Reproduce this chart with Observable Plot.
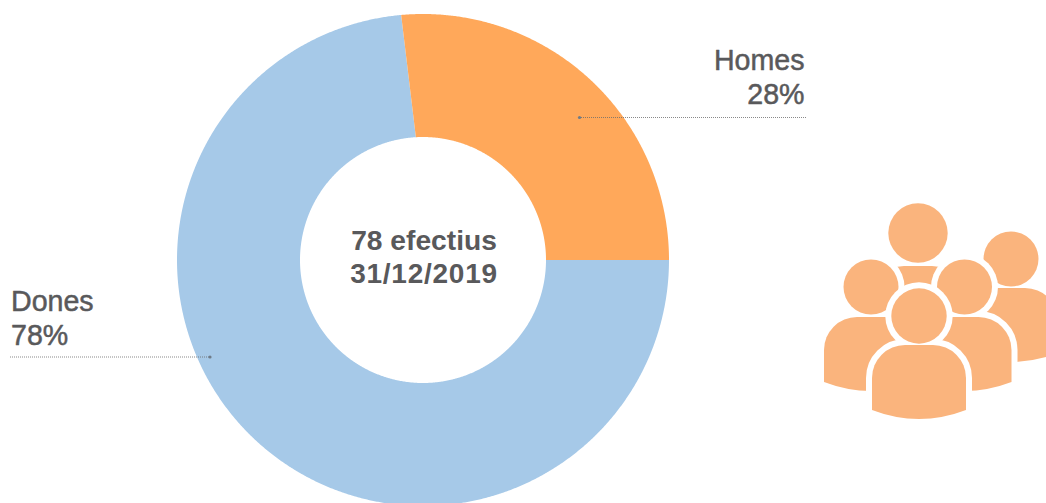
<!DOCTYPE html>
<html>
<head>
<meta charset="utf-8">
<script src="https://cdn.jsdelivr.net/npm/d3@7"></script>
<script src="https://cdn.jsdelivr.net/npm/@observablehq/plot@0.6"></script>
<style>
html,body{margin:0;padding:0;background:#fff;overflow:hidden}
svg{display:block}
.date text{letter-spacing:.75px}
</style>
</head>
<body>
<div id="chart"></div>
<script>
const categories = ["Dones", "Homes"];
const values = [78, 28];
const colors = ["#A6C9E8", "#FFA85A"];
const centerLines = ["78 efectius", "31/12/2019"];

const W = 1046, H = 503;
const cx = 423, cy = 260, R = 246, r0 = 123;
const ink = "#59595B";
const seamSkew = 0.031; // the reference's slice boundary is not quite radial

const pie = d3.pie().sort(null).startAngle(Math.PI / 2).endAngle(Math.PI * 2.5);
const arcs = pie(values);
const ring = arcs.flatMap((a, i) => {
  const n = Math.ceil((a.endAngle - a.startAngle) / 0.005);
  const i0 = a.startAngle + (i === 1 ? seamSkew : 0);
  const i1 = a.endAngle + (i === 0 ? seamSkew : 0);
  return d3.range(n + 1).map(k => {
    const t = a.startAngle + (a.endAngle - a.startAngle) * k / n;
    const u = i0 + (i1 - i0) * k / n;
    return {
      category: categories[i],
      x1: cx + R * Math.sin(t), y1: cy - R * Math.cos(t),
      x2: cx + r0 * Math.sin(u), y2: cy - r0 * Math.cos(u)
    };
  });
});

const labelsRight = [
  {text: categories[1], x: 804, y: 60},
  {text: values[1] + "%", x: 804, y: 94}
];
const labelsLeft = [
  {text: categories[0], x: 10.5, y: 301},
  {text: values[0] + "%", x: 10.5, y: 335}
];
const leaders = [
  {x1: 579, x2: 806, y: 117},
  {x1: 10, x2: 209.5, y: 356.5}
];

// Pictograph: back to front
const people = [
  {c: 1011, hy: 259, hr: 27.5, top: 288},
  {c: 918, hy: 233, hr: 29.7, top: 266},
  {c: 871, hy: 287, hr: 27.5, top: 317},
  {c: 964.5, hy: 287, hr: 27.5, top: 317},
  {c: 919, hy: 316, hr: 27.7, top: 345}
];
function bodyPath(p) {
  const l = p.c - 47, e = p.c + 47, s = 33, b = p.top + 65;
  return `M${l},${b}V${p.top + s}A${s},${s} 0 0 1 ${l + s},${p.top}H${e - s}A${s},${s} 0 0 1 ${e},${p.top + s}V${b}Q${p.c},${b + 18} ${l},${b}Z`;
}
function icon() {
  const g = d3.create("svg:g").attr("aria-label", "people icon");
  for (const p of people) {
    g.append("path").attr("d", bodyPath(p)).attr("fill", "#fff").attr("stroke", "#fff").attr("stroke-width", 12).attr("stroke-linejoin", "round");
    g.append("circle").attr("cx", p.c).attr("cy", p.hy).attr("r", p.hr + 6).attr("fill", "#fff");
    g.append("path").attr("d", bodyPath(p)).attr("fill", "#FAB47D");
    g.append("circle").attr("cx", p.c).attr("cy", p.hy).attr("r", p.hr).attr("fill", "#FAB47D");
  }
  return g.node();
}

const textStyle = {x: "x", y: "y", text: "text", fontSize: 28.6, fill: ink, stroke: ink, strokeWidth: 0.5};

const plot = Plot.plot({
  width: W, height: H,
  marginTop: 0, marginRight: 0, marginBottom: 0, marginLeft: 0,
  x: {domain: [0, W], range: [0, W], axis: null},
  y: {domain: [0, H], range: [0, H], axis: null},
  color: {domain: categories, range: colors},
  style: {fontFamily: "'Liberation Sans', Arial, sans-serif", background: "#fff"},
  marks: [
    Plot.area(ring, {x1: "x1", y1: "y1", x2: "x2", y2: "y2", z: "category", fill: "category", curve: "linear"}),
    Plot.ruleY(leaders, {x1: "x1", x2: "x2", y: "y", stroke: "#6b6b6b", strokeWidth: 1, strokeDasharray: "1 1", strokeOpacity: 0.8}),
    Plot.dot(leaders.map((d, i) => ({x: i === 0 ? d.x1 : d.x2, y: d.y})), {x: "x", y: "y", r: 1.6, fill: "#6f7b88"}),
    Plot.text(labelsRight, {...textStyle, textAnchor: "end"}),
    Plot.text(labelsLeft, {...textStyle, textAnchor: "start"}),
    Plot.text([{text: centerLines[0], x: 423.5, y: 240}], {x: "x", y: "y", text: "text", fontSize: 28.2, fontWeight: "bold", fill: ink}),
    Plot.text([{text: centerLines[1], x: 423.5, y: 274}], {x: "x", y: "y", text: "text", fontSize: 28, fontWeight: "bold", fill: ink, className: "date"}),
    icon
  ]
});
document.getElementById("chart").append(plot);
</script>
</body>
</html>
